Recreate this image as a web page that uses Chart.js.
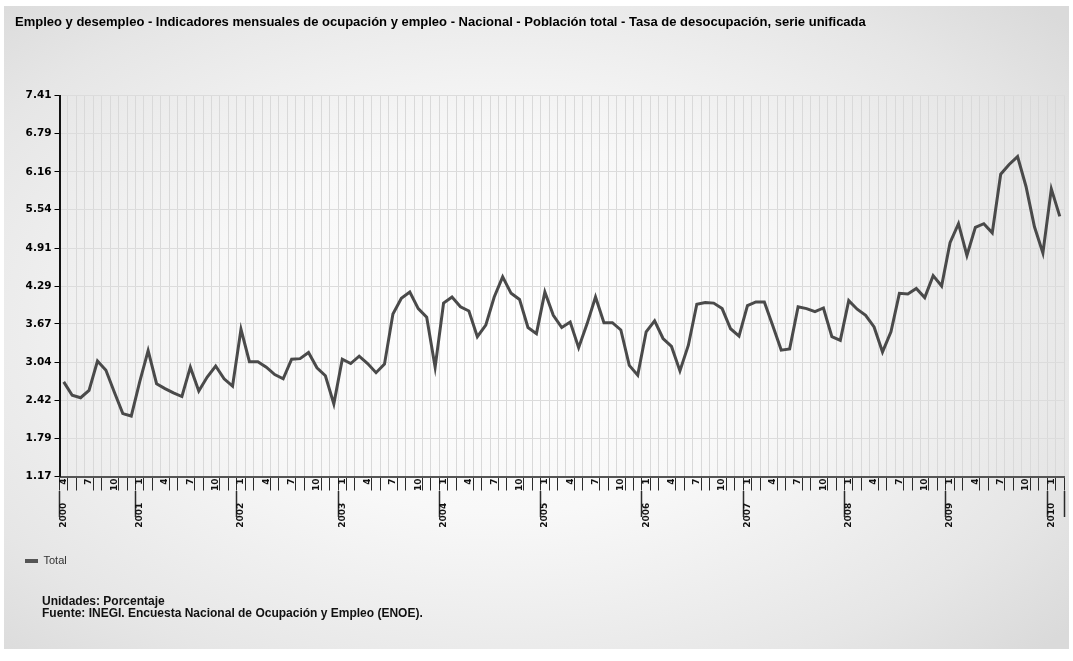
<!DOCTYPE html>
<html>
<head>
<meta charset="utf-8">
<script src="https://cdn.jsdelivr.net/npm/chart.js@4.4.1/dist/chart.umd.min.js"></script>
<style>
  html, body { margin: 0; padding: 0; background: #ffffff; }
  #wrap { position: relative; width: 1073px; height: 661px; overflow: hidden; }
  #panel {
    position: absolute; left: 4px; top: 6px; width: 1065px; height: 643px;
    background: radial-gradient(ellipse 70% 72% at 47% 50%, #ffffff 0%, #f8f8f8 40%, #e6e6e6 80%, #dadada 100%);
  }
  #c { position: absolute; left: 0; top: 0; }
  #foot {
    position: absolute; left: 42px; top: 595px;
    font: bold 12px 'Liberation Sans', Arial, sans-serif; line-height: 12px; color: #111;
  }
</style>
</head>
<body>
<div id="wrap">
  <div id="panel"></div>
  <canvas id="c" width="1073" height="661"></canvas>
  <div id="foot">Unidades: Porcentaje<br>Fuente: INEGI. Encuesta Nacional de Ocupación y Empleo (ENOE).</div>
</div>
<script>
// ---- Data (tasa de desocupación, %), monthly ----
const rate2000 = [2.72, 2.50, 2.46, 2.58, 3.06, 2.91, 2.55, 2.20, 2.16];            // Apr–Dec
const rate2001 = [2.72, 3.23, 2.69, 2.61, 2.54, 2.48, 2.96, 2.57, 2.80, 2.98, 2.77, 2.65];
const rate2002 = [3.58, 3.05, 3.05, 2.96, 2.84, 2.77, 3.09, 3.10, 3.20, 2.95, 2.82, 2.36];
const rate2003 = [3.09, 3.02, 3.14, 3.02, 2.87, 3.01, 3.83, 4.09, 4.19, 3.92, 3.78, 2.96];
const rate2004 = [4.01, 4.11, 3.95, 3.88, 3.46, 3.65, 4.11, 4.44, 4.17, 4.07, 3.61, 3.51];
const rate2005 = [4.19, 3.81, 3.61, 3.70, 3.28, 3.67, 4.11, 3.69, 3.69, 3.57, 2.99, 2.83];
const rate2006 = [3.54, 3.72, 3.43, 3.30, 2.90, 3.32, 3.99, 4.02, 4.01, 3.92, 3.59, 3.47];
const rate2007 = [3.97, 4.03, 4.03, 3.64, 3.24, 3.26, 3.95, 3.92, 3.87, 3.93, 3.46, 3.40];
const rate2008 = [4.05, 3.91, 3.81, 3.62, 3.21, 3.54, 4.17, 4.16, 4.25, 4.10, 4.46, 4.29];
const rate2009 = [5.00, 5.31, 4.79, 5.25, 5.31, 5.16, 6.12, 6.28, 6.41, 5.92, 5.26, 4.83];
const rate2010 = [5.88, 5.43];                                                        // Jan–Feb

const yearBlocks = [
  [2000, 4, rate2000], [2001, 1, rate2001], [2002, 1, rate2002], [2003, 1, rate2003],
  [2004, 1, rate2004], [2005, 1, rate2005], [2006, 1, rate2006], [2007, 1, rate2007],
  [2008, 1, rate2008], [2009, 1, rate2009], [2010, 1, rate2010]
];
const labeledMonths = [1, 4, 7, 10];
const yTickValues = [1.17, 1.79, 2.42, 3.04, 3.67, 4.29, 4.91, 5.54, 6.16, 6.79, 7.41];

const titleText = 'Empleo y desempleo - Indicadores mensuales de ocupación y empleo - Nacional - Población total - Tasa de desocupación, serie unificada';
const seriesName = 'Total';

// ---- Build categories from the blocks ----
const labels = [], values = [], monthOf = [], yearOf = [];
yearBlocks.forEach(([yr, m0, arr]) => {
  arr.forEach((v, k) => {
    const m = m0 + k;
    labels.push(yr + '-' + String(m).padStart(2, '0'));
    values.push(v);
    monthOf.push(m);
    yearOf.push(yr);
  });
});

const DARK = '#2b2b2b';
const CLEAR = 'rgba(0,0,0,0)';
const SANS = "'Liberation Sans', Arial, sans-serif";
const WIDE = "'DejaVu Sans', Verdana, sans-serif";

const monthTickColor = (ctx) => {
  const i = ctx.index;
  if (i === undefined || i === 0) return DARK;
  const m = monthOf[i];
  if (m === 1) return DARK;
  return labeledMonths.includes(m) ? CLEAR : DARK;
};
const yearTickColor = (ctx) => {
  const i = ctx.index;
  return (i === undefined || i === 0 || monthOf[i] === 1) ? DARK : CLEAR;
};

new Chart(document.getElementById('c'), {
  type: 'line',
  data: {
    labels: labels,
    datasets: [{
      label: seriesName,
      data: values,
      borderColor: '#4a4a4a',
      backgroundColor: '#4a4a4a',
      borderWidth: 3,
      pointRadius: 0,
      tension: 0,
      xAxisID: 'x',
      yAxisID: 'y'
    }]
  },
  options: {
    responsive: false,
    animation: false,
    devicePixelRatio: 1,
    layout: { padding: { left: 15, right: 9, top: 0, bottom: 84.5 } },
    plugins: {
      title: {
        display: true, text: titleText, align: 'start', color: '#000',
        font: { family: SANS, size: 13, weight: 'bold' },
        padding: { top: 14.7, bottom: 65.2 }
      },
      legend: {
        display: true, position: 'bottom', align: 'start',
        labels: {
          boxWidth: 13, boxHeight: 4, padding: 10, color: '#333',
          font: { family: SANS, size: 11 },
          generateLabels(chart) {
            const items = Chart.defaults.plugins.legend.labels.generateLabels(chart);
            items.forEach(it => { it.lineWidth = 0; it.fillStyle = '#555'; it.strokeStyle = CLEAR; });
            return items;
          }
        }
      },
      tooltip: { enabled: false }
    },
    scales: {
      x: {
        type: 'category', position: 'bottom', offset: true,
        grid: { offset: true, color: '#d9d9d9', lineWidth: 1, drawTicks: true, tickLength: 14, tickColor: monthTickColor, tickWidth: 1 },
        border: { display: true, color: '#555', width: 2 },
        ticks: {
          autoSkip: false, minRotation: 90, maxRotation: 90, padding: -12, color: '#111',
          font: { family: WIDE, size: 9, weight: 'bold' },
          callback: (v, i) => labeledMonths.includes(monthOf[i]) ? String(monthOf[i]) : ''
        },
        afterFit: (s) => { s.height = 14; }
      },
      x2: {
        type: 'category', axis: 'x', position: 'bottom', offset: true,
        grid: { offset: true, drawOnChartArea: false, drawTicks: true, tickLength: 26.5, tickColor: yearTickColor, tickWidth: 1.5 },
        border: { display: false },
        ticks: {
          autoSkip: false, minRotation: 90, maxRotation: 90, padding: -14.3, color: '#111',
          font: { family: WIDE, size: 9, weight: 'bold' },
          callback: (v, i) => (i === 0 || monthOf[i] === 1) ? String(yearOf[i]) : ''
        },
        afterFit: (s) => { s.height = 55; }
      },
      y: {
        type: 'linear', min: yTickValues[0], max: yTickValues[yTickValues.length - 1],
        afterBuildTicks: (s) => { s.ticks = yTickValues.map(v => ({ value: v })); },
        grid: { color: '#dcdcdc', lineWidth: 1, drawTicks: true, tickLength: 5, tickColor: '#000' },
        border: { display: true, color: '#111', width: 2 },
        ticks: {
          padding: 3, color: '#000',
          font: { family: WIDE, size: 10.5, weight: 'bold' },
          callback: (v) => Number(v).toFixed(2)
        },
        afterFit: (s) => { s.width = 44.5; }
      }
    }
  }
});
</script>
</body>
</html>
